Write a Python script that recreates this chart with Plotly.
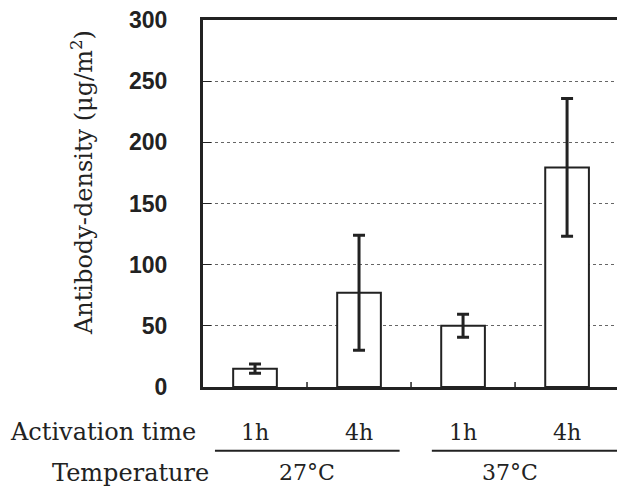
import plotly.graph_objects as go

categories = ["27°C 1h", "27°C 4h", "37°C 1h", "37°C 4h"]
time_labels = ["1h", "4h", "1h", "4h"]
density = [15, 77, 50, 179.5]
errors = [3.8, 47, 9.4, 56.3]
temperatures = ["27°C", "37°C"]
y_ticks = [0, 50, 100, 150, 200, 250, 300]

serif = "'DejaVu Serif', 'Liberation Serif', serif"

fig = go.Figure()
fig.add_trace(go.Bar(
    x=list(range(len(categories))), y=density,
    width=0.42,
    marker=dict(color="white", line=dict(color="#222", width=2)),
    error_y=dict(type="data", array=errors, visible=True,
                 color="#222", thickness=3, width=6),
    hovertext=categories,
))

fig.update_layout(
    width=617, height=492,
    margin=dict(l=203, r=0, t=20, b=105),
    paper_bgcolor="white", plot_bgcolor="white",
    showlegend=False,
    xaxis=dict(
        range=[-0.5, 3.48],
        tickvals=[0, 1, 2, 3], ticktext=time_labels,
        showline=True, linecolor="#222", linewidth=3, mirror=True,
        showgrid=False, zeroline=False,
        ticks="", ticklabelstandoff=24,
        tickfont=dict(family=serif, size=22, color="#222"),
    ),
    yaxis=dict(
        range=[0, 300], tickvals=y_ticks,
        showline=True, linecolor="#222", linewidth=3,
        showgrid=True, gridcolor="#666", griddash="dot", gridwidth=1,
        zeroline=False,
        ticks="inside", ticklen=8, tickcolor="#222", tickwidth=1,
        ticklabelstandoff=28,
        tickfont=dict(family="Liberation Sans", size=23, color="#222", weight="bold"),
    ),
)

# boundary tick marks on the x axis
for b in [0.5, 1.5, 2.5]:
    fig.add_shape(type="line", xref="x", yref="y", x0=b, x1=b, y0=0, y1=4,
                  line=dict(color="#222", width=1.5))

fig.add_annotation(text="Antibody-density (μg/m<sup>2</sup>)", textangle=-90,
                   xref="paper", yref="paper", x=-0.292, y=0.556, showarrow=False,
                   xanchor="center", yanchor="middle",
                   font=dict(family=serif, size=24, color="#222"))
fig.add_annotation(text="Activation time", xref="paper", yref="paper",
                   x=-0.242, y=-0.123, showarrow=False,
                   xanchor="center", yanchor="middle",
                   font=dict(family=serif, size=24, color="#222"))
fig.add_annotation(text="Temperature", xref="paper", yref="paper",
                   x=-0.176, y=-0.234, showarrow=False,
                   xanchor="center", yanchor="middle",
                   font=dict(family=serif, size=24, color="#222"))

temp_spans = [(-0.385, 1.39, 0.5), (1.70, 3.48, 2.45)]
for label, (x0, x1, xc) in zip(temperatures, temp_spans):
    fig.add_shape(type="line", xref="x", yref="paper", x0=x0, x1=x1,
                  y0=-0.174, y1=-0.174, line=dict(color="#222", width=2))
    fig.add_annotation(text=label, xref="x", yref="paper", x=xc, y=-0.234,
                       xanchor="center", yanchor="middle",
                       showarrow=False, font=dict(family=serif, size=22, color="#222"))

fig.write_html("out.html")
